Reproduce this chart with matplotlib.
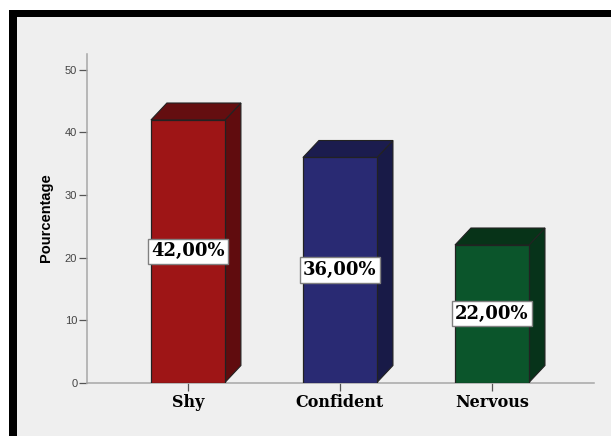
import matplotlib.pyplot as plt
from matplotlib.patches import Polygon, Rectangle

categorias = ["Shy", "Confident", "Nervous"]
valores = [42, 36, 22]
etiquetas = ["42,00%", "36,00%", "22,00%"]
colores = ["#9E1516", "#292A73", "#0B552B"]
colores_lado = ["#600C0E", "#181A47", "#07331A"]
colores_arriba = ["#640E10", "#1B1C4E", "#073318"]
ticks_y = [0, 10, 20, 30, 40, 50]

FONDO = "#EFEFEF"
ANCHO = 0.487
DX = 0.105   # profundidad del efecto 3D
DY = 2.72

fig = plt.figure(figsize=(6.11, 4.36), dpi=100, facecolor="white")

# marco negro y fondo gris (zorder bajo para que queden detras de los ejes)
fig.add_artist(Rectangle((9 / 611, 0), 602 / 611, 426 / 436, transform=fig.transFigure,
                         facecolor="black", edgecolor="none", zorder=-2))
fig.add_artist(Rectangle((16.5 / 611, 0), 594.5 / 611, 418.5 / 436, transform=fig.transFigure,
                         facecolor=FONDO, edgecolor="none", zorder=-1))

ax = fig.add_axes([87 / 611, (436 - 382.5) / 436, 507 / 611, 328.5 / 436])
ax.patch.set_visible(False)
ax.set_xlim(-0.664, 2.671)
ax.set_ylim(0, 52.56)

for i, v in enumerate(valores):
    x0 = i - ANCHO / 2
    x1 = i + ANCHO / 2
    ax.add_patch(Polygon([(x1, 0), (x1 + DX, DY), (x1 + DX, v + DY), (x1, v)],
                         facecolor=colores_lado[i], edgecolor="#222222", lw=0.8, zorder=3))
    ax.add_patch(Polygon([(x0, v), (x0 + DX, v + DY), (x1 + DX, v + DY), (x1, v)],
                         facecolor=colores_arriba[i], edgecolor="#222222", lw=0.8, zorder=3))
    ax.add_patch(Rectangle((x0, 0), ANCHO, v, facecolor=colores[i],
                           edgecolor="#222222", lw=0.9, zorder=4))
    ax.text(i, v / 2, etiquetas[i], ha="center", va="center", zorder=5,
            family="DejaVu Serif", weight="bold", fontsize=13, color="black",
            bbox=dict(boxstyle="square,pad=0.2", facecolor="white", edgecolor="#808080", lw=1))

ax.spines["top"].set_visible(False)
ax.spines["right"].set_visible(False)
ax.spines["left"].set_color("#A6A6A6")
ax.spines["bottom"].set_color("#A6A6A6")
ax.spines["left"].set_linewidth(1.1)
ax.spines["bottom"].set_linewidth(1.1)

ax.set_xticks(range(len(categorias)))
ax.set_xticklabels(categorias, family="DejaVu Serif", weight="bold", fontsize=11.5, color="black")
ax.set_yticks(ticks_y)
ax.set_yticklabels([str(t) for t in ticks_y], family="Liberation Sans", fontsize=8, color="#444444")
ax.tick_params(axis="y", length=6, width=0.9, color="#555555", pad=1)
ax.tick_params(axis="x", length=5.5, width=0.9, color="#555555", pad=3)

fig.text(46 / 611, 1 - 218 / 436, "Pourcentage", rotation=90, ha="center", va="center",
         family="Liberation Sans", weight="bold", fontsize=10.5, color="black")

fig.savefig("out.png", dpi=100, facecolor=fig.get_facecolor())
